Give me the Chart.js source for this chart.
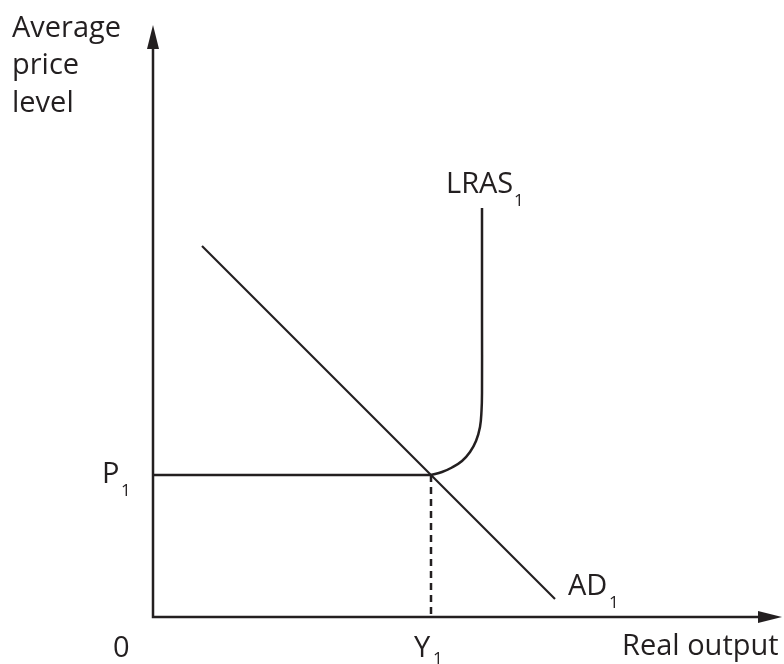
<!DOCTYPE html>
<html>
<head>
<meta charset="utf-8">
<script src="https://cdn.jsdelivr.net/npm/chart.js@4/dist/chart.umd.min.js"></script>
<style>
  body { margin: 0; background: #fff; }
  #wrap { width: 784px; height: 664px; }
</style>
</head>
<body>
<div id="wrap"><canvas id="diagram" width="784" height="664"></canvas></div>
<script>
// axis extents (arbitrary units, origin at 0)
const xMax = 62.9;
const yMax = 59.2;

// equilibrium
const P1 = 14.2;
const Y1 = 27.8;

// aggregate demand line
const adX = [4.9, 40.2];
const adY = [37.1, 1.8];

// long run aggregate supply curve (vertical then bending into the equilibrium)
const lrasX = [32.9, 32.9, 32.9, 32.85, 32.7, 32.3, 31.7, 30.9, 29.9, 28.9, 27.8];
const lrasY = [40.9, 30.0, 22.4, 20.6, 19.0, 17.6, 16.5, 15.6, 14.95, 14.5, 14.2];

const ink = "#231f20";
const font = "Open Sans";

function pts(xs, ys) {
  return xs.map((x, i) => ({ x: x, y: ys[i] }));
}

const labels = {
  id: "labels",
  afterDatasetsDraw(chart) {
    const c = chart.ctx;
    const xs = chart.scales.x;
    const ys = chart.scales.y;
    const x0 = xs.getPixelForValue(0);
    const y0 = ys.getPixelForValue(0);
    const xEnd = xs.getPixelForValue(xMax);
    const yEnd = ys.getPixelForValue(yMax);

    c.save();
    c.fillStyle = ink;

    // arrow heads
    c.beginPath();
    c.moveTo(x0, yEnd);
    c.lineTo(x0 - 6, yEnd + 24);
    c.lineTo(x0 + 6, yEnd + 24);
    c.closePath();
    c.fill();
    c.beginPath();
    c.moveTo(xEnd, y0);
    c.lineTo(xEnd - 24, y0 - 6);
    c.lineTo(xEnd - 24, y0 + 6);
    c.closePath();
    c.fill();

    c.textAlign = "left";
    c.textBaseline = "alphabetic";
    const big = "29px '" + font + "'";
    const small = "17px '" + font + "'";

    function sub(text, x, y, sx, sy) {
      c.font = big;
      c.fillText(text, x, y);
      c.font = small;
      c.fillText("1", x + sx, y + sy);
    }

    c.font = big;
    c.fillText("Average", 12, 37);
    c.fillText("price", 12, 74);
    c.fillText("level", 12, 112);
    c.fillText("0", x0 - 40, y0 + 40);
    c.fillText("Real output", xEnd - 160, y0 + 38);

    const py = ys.getPixelForValue(P1);
    const yx = xs.getPixelForValue(Y1);
    sub("P", x0 - 51, py + 8, 19, 13);
    sub("Y", yx - 17, y0 + 40, 19, 7);

    const lx = xs.getPixelForValue(lrasX[0]);
    const ly = ys.getPixelForValue(lrasY[0]);
    sub("LRAS", lx - 36, ly - 15, 68, 13);

    const ax = xs.getPixelForValue(adX[1]);
    const ay = ys.getPixelForValue(adY[1]);
    sub("AD", ax + 13, ay - 4, 41, 13);

    c.restore();
  }
};

new Chart(document.getElementById("diagram"), {
  type: "scatter",
  data: {
    datasets: [
      {
        label: "axes",
        data: [{ x: 0, y: yMax - 2 }, { x: 0, y: 0 }, { x: xMax - 2, y: 0 }],
        borderWidth: 2.5,
      },
      {
        label: "P1",
        data: [{ x: 0, y: P1 }, { x: Y1, y: P1 }],
        borderWidth: 2.5,
      },
      {
        label: "Y1",
        data: [{ x: Y1, y: P1 }, { x: Y1, y: 0 }],
        borderWidth: 2.5,
        borderDash: [7, 5],
      },
      {
        label: "AD1",
        data: pts(adX, adY),
        borderWidth: 2.2,
      },
      {
        label: "LRAS1",
        data: pts(lrasX, lrasY),
        borderWidth: 2.5,
        tension: 0.4,
      },
    ].map((d) => Object.assign({
      showLine: true,
      borderColor: ink,
      pointRadius: 0,
      clip: false,
      fill: false,
    }, d)),
  },
  options: {
    responsive: false,
    animation: false,
    layout: { padding: { left: 153, right: 2, top: 25, bottom: 47 } },
    plugins: { legend: { display: false }, tooltip: { enabled: false } },
    scales: {
      x: { type: "linear", min: 0, max: xMax, display: false },
      y: { type: "linear", min: 0, max: yMax, display: false },
    },
  },
  plugins: [labels],
});
</script>
</body>
</html>
